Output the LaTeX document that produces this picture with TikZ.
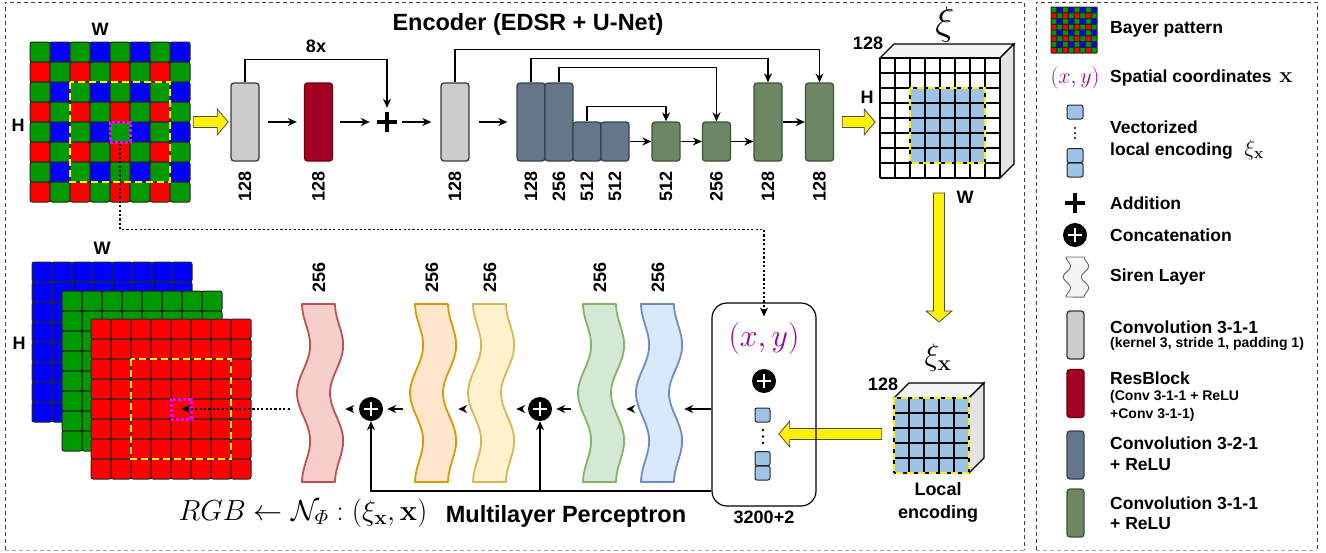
\RequirePackage{fix-cm}
\documentclass[tikz,border=0pt]{standalone}
\usepackage{amsmath}
\usepackage[no-math]{fontspec}
\setmainfont{Liberation Sans}
\usetikzlibrary{arrows.meta,calc}

\definecolor{bgreen}{RGB}{0,153,0}
\definecolor{bblue}{RGB}{0,0,255}
\definecolor{bred}{RGB}{255,0,0}
\colorlet{bay0}{bgreen}
\colorlet{bay1}{bblue}
\colorlet{bay2}{bred}
\colorlet{bay3}{bgreen}
\definecolor{convgray}{HTML}{CCCCCC}
\definecolor{convline}{HTML}{36393D}
\definecolor{resred}{HTML}{A20025}
\definecolor{resline}{HTML}{6F0000}
\definecolor{downblue}{HTML}{647687}
\definecolor{downline}{HTML}{314354}
\definecolor{upgreen}{HTML}{6D8764}
\definecolor{upline}{HTML}{3A5431}
\definecolor{featblue}{HTML}{9DC3E6}
\definecolor{xymag}{RGB}{153,0,153}
\definecolor{cellmag}{RGB}{255,0,255}
\definecolor{redfill}{HTML}{F8CECC}
\definecolor{redline}{HTML}{B85450}
\definecolor{orangefill}{HTML}{FFE6CC}
\definecolor{orangeline}{HTML}{D79B00}
\definecolor{yelfill}{HTML}{FFF2CC}
\definecolor{yelline}{HTML}{D6B656}
\definecolor{grnfill}{HTML}{D5E8D4}
\definecolor{grnline}{HTML}{82B366}
\definecolor{blufill}{HTML}{DAE8FC}
\definecolor{bluline}{HTML}{6C8EBF}
\definecolor{grayfill}{HTML}{F5F5F5}
\definecolor{grayline}{HTML}{666666}

% 8x8 Bayer mosaic: x, y, cell, corner
\newcommand{\bayergrid}[4]{%
  \foreach \r in {0,...,7}{\foreach \c in {0,...,7}{%
    \pgfmathtruncatemacro\k{2*mod(\r,2)+mod(\c,2)}%
    \filldraw[fill=bay\k, draw=black!85, line width=1pt, rounded corners=#4]
      (#1+#3*\c,#2+#3*\r) rectangle ++(#3,#3);}}}
% one colour plane of the output image
\newcommand{\layergrid}[3]{%
  \foreach \r in {0,...,7}{\foreach \c in {0,...,7}{%
    \filldraw[fill=#3, draw=black!85, line width=1pt, rounded corners=2pt]
      (#1+20*\c,#2+20*\r) rectangle ++(20,20);}}}

\tikzset{
  blk/.style={draw, line width=1.3pt, rounded corners=3pt, inner sep=0pt, minimum width=28pt},
  tall/.style={blk, minimum height=78pt},
  short/.style={blk, minimum height=39pt},
  legblk/.style={blk, minimum width=17pt, minimum height=48pt},
  conv/.style={fill=convgray, draw=convline},
  res/.style={fill=resred, draw=resline},
  down/.style={fill=downblue, draw=downline},
  up/.style={fill=upgreen, draw=upline},
  arr/.style={-{Stealth[length=9pt,width=8pt]}, line width=1.4pt},
  mlp/.style={arr, shorten <=6pt, shorten >=4pt},
  dotline/.style={line width=2.4pt, dash pattern=on 2.2pt off 2.2pt},
  dimlbl/.style={rotate=90, anchor=east, inner sep=0pt},
  ydash/.style={draw=yellow, line width=2.4pt, dash pattern=on 7pt off 4pt},
  mcell/.style={draw=cellmag, line width=3pt, dash pattern=on 3pt off 2pt,
    minimum size=20pt, inner sep=0pt},
  yarr/.style={fill=yellow, draw=black!70, line width=0.8pt},
  pics/yarrow/.style={code={
    \draw[yarr] (0,-5.5) -- (#1-11,-5.5) -- (#1-11,-13) -- (#1,0) -- (#1-11,13)
      -- (#1-11,5.5) -- (0,5.5) -- cycle;}},
  sirenline/.style={line width=1.8pt},
  pics/siren/.style={code={
    \draw[fill=#1fill, draw=#1line, sirenline, line join=round]
      plot[domain=0:1, samples=40, variable=\t]
        ({2.75+2.5*cos(360*\t)-5.25*cos(720*\t)}, {178*\t})
      -- plot[domain=1:0, samples=40, variable=\t]
        ({35.75+2.5*cos(360*\t)-5.25*cos(720*\t)}, {178*\t})
      -- cycle;}},
  sbox/.style={minimum width=45pt, minimum height=10pt, inner sep=0pt},
  concat/.style={circle, fill=black, inner sep=0pt, minimum size=24pt, path picture={
    \draw[white, line width=2.4pt]
      ([xshift=-7pt]path picture bounding box.center) -- ([xshift=7pt]path picture bounding box.center)
      ([yshift=-7pt]path picture bounding box.center) -- ([yshift=7pt]path picture bounding box.center);}},
  addnode/.style={minimum size=20pt, inner sep=0pt, path picture={
    \draw[black, line width=3.5pt]
      ([xshift=-10pt]path picture bounding box.center) -- ([xshift=10pt]path picture bounding box.center)
      ([yshift=-10pt]path picture bounding box.center) -- ([yshift=10pt]path picture bounding box.center);}},
  vsq/.style={draw=black!85, fill=featblue, rounded corners=2pt, line width=1pt,
    minimum width=15pt, minimum height=14pt, inner sep=0pt},
  framel/.style={line width=1pt, dash pattern=on 4pt off 3pt, black!75},
  legtxt/.style={anchor=west, inner sep=0pt},
  small/.style={font=\bfseries\fontsize{14}{16}\selectfont},
}

\begin{document}
\begin{tikzpicture}[x=1pt, y=-1pt, font=\bfseries\fontsize{18}{20}\selectfont]
\useasboundingbox (0,0) rectangle (1326,552);

% frames
\draw[framel] (5,550) -- (5,2) -- (1024,2) -- (1024,550);
\draw[framel, black!35] (5,550) -- (1024,550);
\draw[framel] (1036,550) -- (1036,2) -- (1317,2) -- (1317,550);
\draw[framel, black!35] (1036,550) -- (1317,550);

% input Bayer image
\bayergrid{30}{42}{20}{2pt}
\node[minimum size=160pt, inner sep=0pt] (bayer) at (110,122) {};
\draw[ydash] (70,82) rectangle (170,182);
\node[mcell] (mc1) at (120,132) {};
\node at (100,29) {W};
\node at (18,125) {H};

% encoder
\node[font=\bfseries\fontsize{23.5}{26}\selectfont] (title) at (528,24) {Encoder (EDSR + U-Net)};
\pic at ($(bayer.east)+(3,0)$) {yarrow=35};
\node[tall, conv] (c1) at (245,122) {};
\node[tall, res] (rb) at (318.5,122) {};
\node[addnode] (add) at (387,122) {};
\node[tall, conv] (c2) at (455,122) {};
\node[tall, down] (d1) at (531,122) {};
\node[tall, down] (d2) at (559,122) {};
\node[short, down] (d3) at (587,141.5) {};
\node[short, down] (d4) at (615,141.5) {};
\node[short, up] (u1) at (666,141.5) {};
\node[short, up] (u2) at (716.5,141.5) {};
\node[tall, up] (u3) at (768,122) {};
\node[tall, up] (u4) at (819.5,122) {};
\foreach \n/\v in {c1/128, rb/128, c2/128, d1/128, d2/256, d3/512, d4/512,
                   u1/512, u2/256, u3/128, u4/128}
  \node[dimlbl] at ($(\n.south)+(0,10)$) {\v};

\draw[arr, shorten <=8pt, shorten >=7pt] (c1) -- (rb);
\draw[arr, shorten <=7pt, shorten >=7pt] (rb) -- (add);
\draw[arr, shorten <=5pt, shorten >=9pt] (add) -- (c2);
\draw[arr, shorten <=9pt, shorten >=9pt] (c2) -- (d1);
\draw[arr] (d4) -- (u1);
\draw[arr] (u1) -- (u2);
\draw[arr] (u2.east) -- (u2.east -| u3.west);
\draw[arr] (u3) -- (u4);
\draw[arr, shorten >=4pt] (c1.north) -- ++(0,-23) -| (add.north)
  node[pos=0.25, above=3pt] {8x};
\draw[arr] (c2.north) -- ++(0,-33) -| (u4.north);
\draw[arr] (d1.north) -- ++(0,-24) -| (u3.north);
\draw[arr] (d2.north) -- ++(0,-15) -| (u2.north);
\draw[arr] (d3.north) -- ++(0,-15) -| (u1.north);

% feature map xi
\pic at ($(u4.east)+(8,0)$) {yarrow=33};
\filldraw[fill=gray!8, draw=black, line width=1.2pt] (880,58) -- ++(14,-14) -- ++(120,0) -- ++(-14,14) -- cycle;
\filldraw[fill=gray!22, draw=black, line width=1.2pt] (1000,58) -- ++(14,-14) -- ++(0,120) -- ++(-14,14) -- cycle;
\fill[white] (880,58) rectangle (1000,178);
\fill[featblue] (910,88) rectangle (985,163);
\foreach \i in {0,...,8}{
  \draw[line width=1.6pt] (880+15*\i,58) -- ++(0,120);
  \draw[line width=1.6pt] (880,58+15*\i) -- ++(120,0);}
\draw[ydash] (910,88) rectangle (985,163);
\node[minimum size=120pt, inner sep=0pt] (feat) at (940,118) {};
\node[font=\fontsize{40}{40}\selectfont] at (945,24) {$\xi$};
\node at (868,43) {128};
\node at (867,97) {H};
\node at (965,197) {W};
\pic[rotate=-90] at (939,193) {yarrow=129};

% local encoding
\filldraw[fill=gray!8, draw=black, line width=1.2pt] (894,398) -- ++(15,-15) -- ++(75,0) -- ++(-15,15) -- cycle;
\filldraw[fill=gray!22, draw=black, line width=1.2pt] (969,398) -- ++(15,-15) -- ++(0,75) -- ++(-15,15) -- cycle;
\fill[featblue] (894,398) rectangle (969,473);
\foreach \i in {0,...,5}{
  \draw[line width=1.6pt] (894+15*\i,398) -- ++(0,75);
  \draw[line width=1.6pt] (894,398+15*\i) -- ++(75,0);}
\draw[ydash] (894,398) rectangle (969,473);
\node[minimum size=75pt, inner sep=0pt] (loc) at (931.5,435.5) {};
\node[font=\fontsize{31}{31}\selectfont] at (938,358) {$\xi_{\mathbf{x}}$};
\node at (883,384) {128};
\node at (938,489) {Local};
\node at (938,514) {encoding};
\pic[rotate=180] at ($(loc.west)+(-12,-1.5)$) {yarrow=103};

% MLP input vector
\node[draw, line width=1.2pt, rounded corners=15pt, minimum width=104pt, minimum height=203pt,
  inner sep=0pt] (vec) at (764,404.5) {};
\node[text=xymag, font=\fontsize{32}{32}\selectfont] (xy) at (764,338) {$(x,y)$};
\node[concat] (cc0) at (764,381) {};
\node[vsq] (v1) at (762.5,415) {};
\node[vsq] (v2) at (762.5,458.5) {};
\node[vsq] (v3) at (762.5,473) {};
\foreach \d in {430,436.5,443} \fill (763,\d) circle (1.4);
\node at (764,517) {3200+2};
\draw[dotline, arr, shorten >=2pt] (mc1.south) -- ++(0,86) -| (xy.north);

% siren layers
\foreach \n/\x/\c in {sred/302/red, sorg/415/orange, syel/473/yel, sgrn/583/grn, sblu/641/blu}{
  \pic at (\x,304) {siren=\c};
  \node[sbox] (\n) at (\x+16.5,409) {};
  \node[dimlbl, anchor=west] at (\x+17,293) {256};}
\node[concat] (cc1) at (371,409) {};
\node[concat] (cc2) at (540,409) {};
\draw[arr, shorten >=4pt] (vec.west |- sblu) -- (sblu.east);
\draw[mlp] (sblu) -- (sgrn);
\draw[mlp] (sgrn) -- (cc2);
\draw[mlp] (cc2) -- (syel);
\draw[mlp] (syel) -- (sorg);
\draw[mlp] (sorg) -- (cc1);
\draw[mlp] (cc1) -- (sred);
\coordinate (bus) at (0,491);
\draw[arr] (vec.west |- bus) -| (cc1.south);
\draw[arr] (cc2 |- bus) -- (cc2.south);

% output RGB image
\layergrid{32}{262}{bblue}
\layergrid{62}{291}{bgreen}
\layergrid{91}{319}{bred}
\draw[ydash] (131,359) rectangle (231,459);
\node[mcell] (mc2) at (181,409) {};
\node at (102,248) {W};
\node at (19,343) {H};
\draw[dotline, arr, shorten <=6pt] (sred.west) -- (mc2.center);

\node[font=\fontsize{29}{29}\selectfont] at (303,513)
  {$RGB \leftarrow \mathcal{N}_{\varPhi} : (\xi_{\mathbf{x}}, \mathbf{x})$};
\node[font=\bfseries\fontsize{23.5}{26}\selectfont] at (566,516) {Multilayer Perceptron};

% legend
\begin{scope}[font=\bfseries\fontsize{17.5}{20}\selectfont]
\bayergrid{1051}{7}{5.75}{0.6pt}
\node[legtxt] at (1110,29) {Bayer pattern};
\node[text=xymag, font=\fontsize{22}{22}\selectfont] at (1075,78) {$(x,y)$};
\node[legtxt] at (1110,78) {Spatial coordinates\ \,{\fontsize{22}{22}\selectfont$\mathbf{x}$}};
\node[vsq, minimum width=16pt] at (1075,112) {};
\node[vsq, minimum width=16pt] at (1075,155.5) {};
\node[vsq, minimum width=16pt] at (1075,170) {};
\foreach \d in {128,133,138} \fill (1075,\d) circle (1.2);
\node[legtxt] at (1110,127) {Vectorized};
\node[legtxt] at (1110,150) {local encoding\hspace{12pt}{\fontsize{22}{22}\selectfont$\xi_{\mathbf{x}}$}};
\node[addnode, minimum size=21pt] at (1075,203) {};
\node[legtxt] at (1110,203) {Addition};
\node[concat] at (1075,235) {};
\node[legtxt] at (1110,235) {Concatenation};
\pic[xscale=0.55, yscale=0.225, sirenline/.style={line width=0.9pt}] at (1066,257) {siren=gray};
\node[legtxt] at (1110,277) {Siren Layer};
\node[legblk, conv] at (1075.5,335) {};
\node[legtxt] at (1110,327) {Convolution 3-1-1};
\node[legtxt, small] at (1110,344) {(kernel 3, stride 1, padding 1)};
\node[legblk, res] at (1075.5,393.5) {};
\node[legtxt] at (1110,378) {ResBlock};
\node[legtxt, small] at (1110,397) {(Conv 3-1-1 + ReLU};
\node[legtxt, small] at (1110,415) {+Conv 3-1-1)};
\node[legblk, down] at (1075.5,455) {};
\node[legtxt] at (1110,443) {Convolution 3-2-1};
\node[legtxt] at (1110,465) {+ ReLU};
\node[legblk, up] at (1075.5,513) {};
\node[legtxt] at (1110,503) {Convolution 3-1-1};
\node[legtxt] at (1110,524) {+ ReLU};
\end{scope}
\end{tikzpicture}
\end{document}
